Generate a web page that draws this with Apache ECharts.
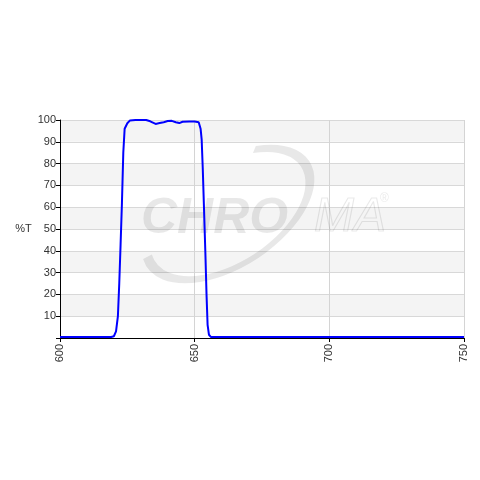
<!DOCTYPE html>
<html><head><meta charset="utf-8">
<script src="https://cdn.jsdelivr.net/npm/echarts@6/dist/echarts.min.js"></script>
<style>html,body{margin:0;padding:0;background:#fff}#c{width:480px;height:480px}</style>
</head><body><div id="c"></div>
<script>
var wavelengths = [600,610,619,620,620.8,621.5,622,622.5,623,623.5,624,625,626,628,630,632,633.5,635.5,637,638.5,640,641.5,643,644.3,645.5,648,650,651.5,652.2,652.6,653,653.5,654,654.4,654.8,655.3,656,700,750];
var transmission = [0.5,0.5,0.5,0.8,3,10,25,43,62,85,96,98.5,99.8,100,100,100,99.4,98.2,98.6,99,99.5,99.6,99,98.6,99.2,99.3,99.3,99,96,91,78,58,38,20,6,1.5,0.5,0.5,0.5];
var xTicks = [600,650,700,750];
var yTicks = [10,20,30,40,50,60,70,80,90,100];

var data = wavelengths.map(function(w,i){return [w, transmission[i]];});
var chart = echarts.init(document.getElementById('c'), null, {renderer:'canvas'});
var wm = 'rgba(0,0,0,0.09)';
chart.setOption({
  animation:false,
  backgroundColor:'#fff',
  grid:{left:60,right:16,top:120,bottom:142,show:false},
  xAxis:{type:'value',min:600,max:750,interval:50,
    axisLine:{lineStyle:{color:'#000',width:1}},
    axisTick:{show:true,length:4,lineStyle:{color:'#000'}},
    axisLabel:{rotate:90,color:'#333',fontSize:11,fontFamily:'Liberation Sans, Arial',margin:6,
      formatter:function(v){return xTicks.indexOf(v)>=0?String(v):'';}},
    splitLine:{show:true,lineStyle:{color:'#d4d4d4',width:1}}
  },
  yAxis:{type:'value',min:0,max:100,interval:10,
    name:'%T',nameLocation:'middle',nameGap:26,nameRotate:0,
    nameTextStyle:{color:'#333',fontSize:11,fontFamily:'Liberation Sans, Arial',align:'right'},
    axisLine:{show:true,lineStyle:{color:'#000',width:1}},
    axisTick:{show:true,length:4,lineStyle:{color:'#000'}},
    axisLabel:{color:'#333',fontSize:11,fontFamily:'Liberation Sans, Arial',margin:4,
      formatter:function(v){return yTicks.indexOf(v)>=0?String(v):'';}},
    splitLine:{show:true,lineStyle:{color:'#d8d8d8',width:1}},
    splitArea:{show:true,areaStyle:{color:['#ffffff','#f4f4f4']}}
  },
  graphic:[
    {type:'arc',z:1,silent:true,x:228,y:214,rotation:33*Math.PI/180,scaleX:1,scaleY:0.55,
      shape:{cx:0,cy:0,r:92,startAngle:-0.9,endAngle:3.3,clockwise:true},
      style:{stroke:wm,fill:null,lineWidth:10}},
    {type:'text',z:1,silent:true,x:141,y:194,
      style:{text:'CHRO',fill:wm,font:'italic bold 50px Liberation Sans, Arial'}},
    {type:'text',z:1,silent:true,x:314,y:194,
      style:{text:'MA',fill:'rgba(255,255,255,0)',stroke:wm,lineWidth:1.2,font:'italic 48px Liberation Sans, Arial'}},
    {type:'text',z:1,silent:true,x:380,y:193,
      style:{text:'®',fill:wm,font:'12px Liberation Sans, Arial'}}
  ],
  series:[{type:'line',data:data,z:10,showSymbol:false,symbol:'none',
    lineStyle:{color:'#0000ff',width:2},clip:true}]
});
</script></body></html>
